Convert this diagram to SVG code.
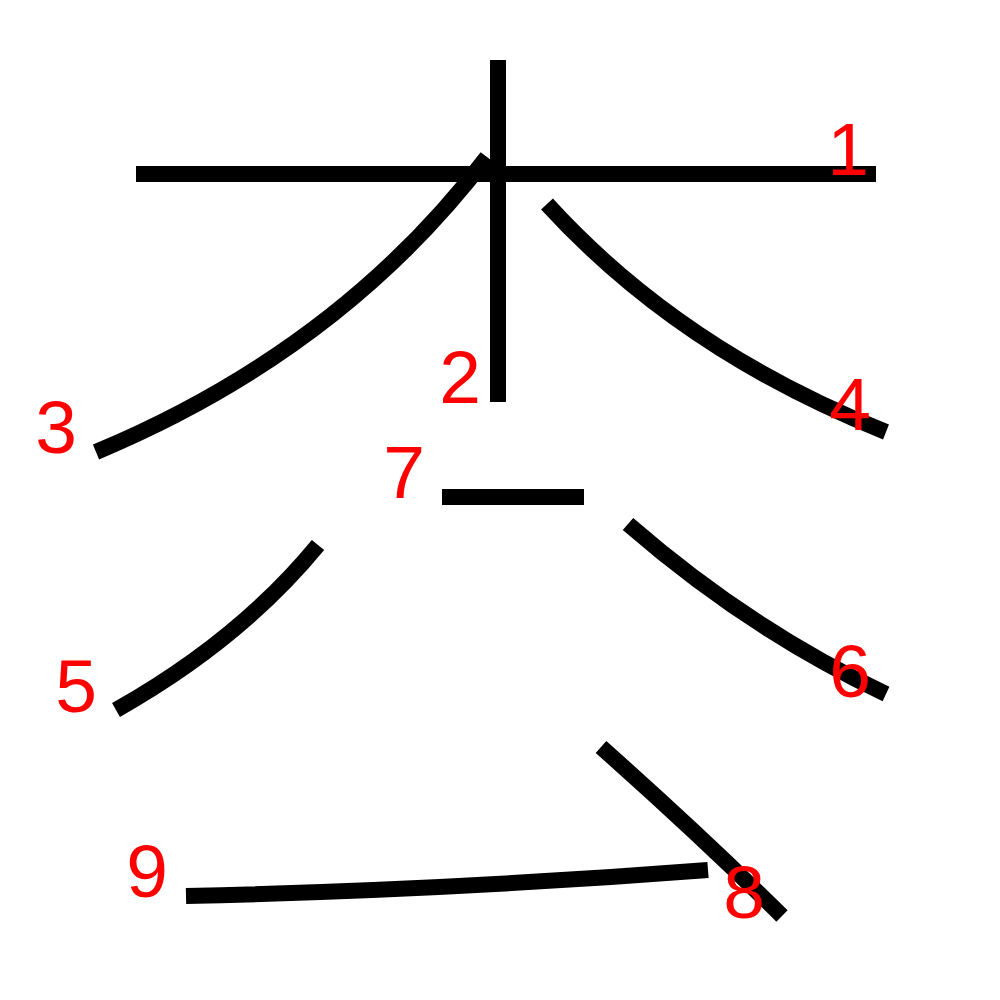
<svg xmlns="http://www.w3.org/2000/svg" width="1000" height="1000" viewBox="0 0 1000 1000">
<style>
.s{fill:none;stroke:#000;stroke-width:16;stroke-linecap:butt}
.n{fill:#f00;font-family:"Liberation Sans",Arial,sans-serif;font-size:75px;text-anchor:middle}
</style>
<rect width="1000" height="1000" fill="#fff"/>
<g id="strokes">
<g id="s1"><path class="s" d="M136,174 L876,174"/></g>
<g id="s2"><path class="s" d="M498,60 L498,402"/></g>
<g id="s3"><path class="s" d="M487,157 Q340,350 96,452"/></g>
<g id="s4"><path class="s" d="M547,204 Q680,350 886,432"/></g>
<g id="s5"><path class="s" d="M318,545 Q240,640 116,710"/></g>
<g id="s6"><path class="s" d="M628,524 Q750,630 886,694"/></g>
<g id="s7"><path class="s" d="M442,497 L584,497"/></g>
<g id="s8"><path class="s" d="M601,747 Q700,835 782,916"/></g>
<g id="s9"><path class="s" d="M186,896 Q450,890 708,870"/></g>
</g>
<g id="labels">
<text class="n" x="848" y="175">1</text>
<text class="n" x="460" y="403">2</text>
<text class="n" x="56" y="453">3</text>
<text class="n" x="850" y="430">4</text>
<text class="n" x="76" y="712">5</text>
<text class="n" x="850" y="697">6</text>
<text class="n" x="404" y="498">7</text>
<text class="n" x="744" y="918">8</text>
<text class="n" x="147" y="897">9</text>
</g>
</svg>
